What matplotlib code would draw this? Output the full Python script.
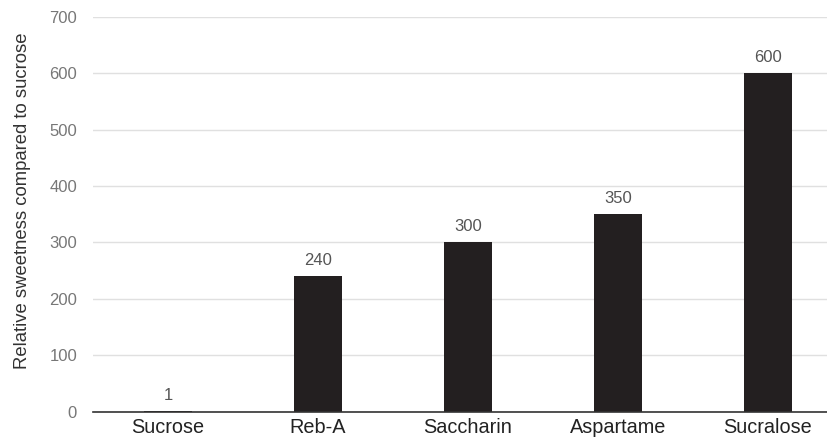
import matplotlib
matplotlib.use("Agg")
import matplotlib.pyplot as plt

plt.rcParams["font.family"] = ["Liberation Sans", "DejaVu Sans"]

sweeteners = ["Sucrose", "Reb-A", "Saccharin", "Aspartame", "Sucralose"]
sweetness = [1, 240, 300, 350, 600]
y_ticks = [0, 100, 200, 300, 400, 500, 600, 700]

fig = plt.figure(figsize=(8.28, 4.40), dpi=100)
ax = fig.add_axes([93 / 828, 1 - 411.5 / 440, 1 - 93 / 828, (411.5 - 17) / 440])

xs = range(len(sweeteners))
ax.bar(xs, sweetness, width=0.32, color="#231f20", zorder=3)
for x, v in zip(xs, sweetness):
    ax.annotate(f"{v}", (x, v), xytext=(0, 6), textcoords="offset points",
                ha="center", va="bottom", fontsize=12, color="#555555")

ax.set_xlim(-0.5, 4.4)
ax.set_ylim(0, 700)
ax.set_yticks(y_ticks)
ax.set_xticks(list(xs))
ax.set_xticklabels(sweeteners, fontsize=14.3, color="#222222")
ax.tick_params(axis="x", length=0, pad=5)
ax.tick_params(axis="y", length=0, pad=11.5, labelsize=12, labelcolor="#777777")
ax.grid(axis="y", color="#e0e0e0", lw=1, zorder=0)
for side in ["top", "right", "left"]:
    ax.spines[side].set_visible(False)
ax.spines["bottom"].set_color("#333333")
ax.spines["bottom"].set_linewidth(1.2)
ax.spines["bottom"].set_zorder(4)

# axis title placed in figure coords so it sits clear of the tick labels
fig.text(23 / 828, 1 - 201 / 440, "Relative sweetness compared to sucrose",
         rotation=90, ha="center", va="center", fontsize=13.3, color="#333333")

fig.savefig("out.png", dpi=100)
